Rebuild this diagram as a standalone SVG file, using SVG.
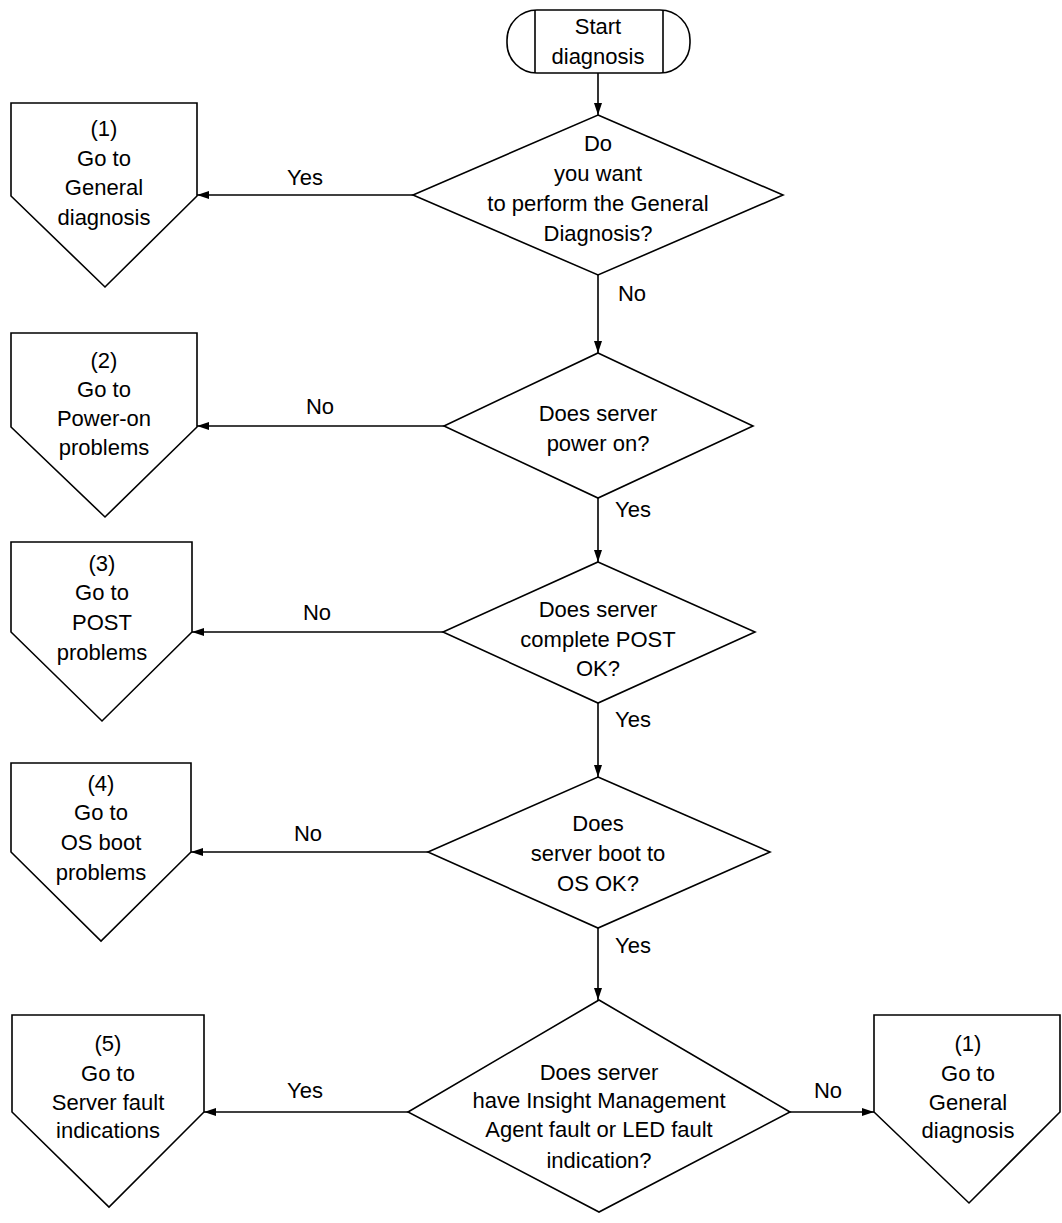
<svg xmlns="http://www.w3.org/2000/svg" width="1062" height="1223" viewBox="0 0 1062 1223">
<style>
.s{fill:#fff;stroke:#000;stroke-width:1.6}
.t{font-family:"Liberation Sans",Arial,sans-serif;font-size:22px;text-anchor:middle;dominant-baseline:central;fill:#000}
.c{stroke:#000;stroke-width:1.6;fill:none;marker-end:url(#a)}
</style>
<defs><marker id="a" markerWidth="12" markerHeight="8" refX="12" refY="4" orient="auto" markerUnits="userSpaceOnUse"><path d="M0,0 L12,4 L0,8 Z" fill="#000"/></marker></defs>
<rect width="1062" height="1223" fill="#fff"/>
<g id="start"><rect class="s" x="507" y="10" width="183" height="63" rx="30"/><line class="s" x1="535" y1="10" x2="535" y2="73"/><line class="s" x1="663" y1="10" x2="663" y2="73"/><text class="t" x="598" y="26">Start</text><text class="t" x="598" y="56">diagnosis</text></g>
<g id="d1"><polygon class="s" points="598,115 783,195 598,275 413,195"/><text class="t" x="598" y="143">Do</text><text class="t" x="598" y="173">you want</text><text class="t" x="598" y="203">to perform the General</text><text class="t" x="598" y="233">Diagnosis?</text></g>
<g id="c1"><polygon class="s" points="11,103 197,103 197,196 105,287 11,196"/><text class="t" x="104" y="128">(1)</text><text class="t" x="104" y="158">Go to</text><text class="t" x="104" y="187">General</text><text class="t" x="104" y="217">diagnosis</text></g>
<g id="d2"><polygon class="s" points="598,353 753,426 598,498 444,426"/><text class="t" x="598" y="413">Does server</text><text class="t" x="598" y="443">power on?</text></g>
<g id="c2"><polygon class="s" points="11,333 197,333 197,427 105,517 11,427"/><text class="t" x="104" y="360">(2)</text><text class="t" x="104" y="389">Go to</text><text class="t" x="104" y="418">Power-on</text><text class="t" x="104" y="447">problems</text></g>
<g id="d3"><polygon class="s" points="598,562 755,632 598,703 443,632"/><text class="t" x="598" y="609">Does server</text><text class="t" x="598" y="639">complete POST</text><text class="t" x="598" y="668">OK?</text></g>
<g id="c3"><polygon class="s" points="11,542 192,542 192,632 102,721 11,632"/><text class="t" x="102" y="563">(3)</text><text class="t" x="102" y="592">Go to</text><text class="t" x="102" y="622">POST</text><text class="t" x="102" y="652">problems</text></g>
<g id="d4"><polygon class="s" points="598,777 770,852 598,928 428,852"/><text class="t" x="598" y="823">Does</text><text class="t" x="598" y="853">server boot to</text><text class="t" x="598" y="883">OS OK?</text></g>
<g id="c4"><polygon class="s" points="11,763 191,763 191,852 101,941 11,852"/><text class="t" x="101" y="783">(4)</text><text class="t" x="101" y="812">Go to</text><text class="t" x="101" y="842">OS boot</text><text class="t" x="101" y="872">problems</text></g>
<g id="d5"><polygon class="s" points="599,1000 790,1112 599,1212 408,1112"/><text class="t" x="599" y="1072">Does server</text><text class="t" x="599" y="1100">have Insight Management</text><text class="t" x="599" y="1129">Agent fault or LED fault</text><text class="t" x="599" y="1160">indication?</text></g>
<g id="c5"><polygon class="s" points="12,1015 204,1015 204,1112 109,1207 12,1112"/><text class="t" x="108" y="1043">(5)</text><text class="t" x="108" y="1073">Go to</text><text class="t" x="108" y="1102">Server fault</text><text class="t" x="108" y="1130">indications</text></g>
<g id="c6"><polygon class="s" points="874,1015 1060,1015 1060,1112 969,1203 874,1112"/><text class="t" x="968" y="1043">(1)</text><text class="t" x="968" y="1073">Go to</text><text class="t" x="968" y="1102">General</text><text class="t" x="968" y="1130">diagnosis</text></g>
<g id="connectors">
<line class="c" x1="598" y1="73" x2="598" y2="115"/>
<line class="c" x1="413" y1="195" x2="197" y2="195"/>
<line class="c" x1="598" y1="275" x2="598" y2="353"/>
<line class="c" x1="444" y1="426" x2="197" y2="426"/>
<line class="c" x1="598" y1="498" x2="598" y2="562"/>
<line class="c" x1="443" y1="632" x2="192" y2="632"/>
<line class="c" x1="598" y1="703" x2="598" y2="777"/>
<line class="c" x1="428" y1="852" x2="191" y2="852"/>
<line class="c" x1="598" y1="928" x2="598" y2="1000"/>
<line class="c" x1="408" y1="1112" x2="204" y2="1112"/>
<line class="c" x1="790" y1="1112" x2="874" y2="1112"/>
<text class="t" x="305" y="177">Yes</text>
<text class="t" x="632" y="293">No</text>
<text class="t" x="320" y="406">No</text>
<text class="t" x="633" y="509">Yes</text>
<text class="t" x="317" y="612">No</text>
<text class="t" x="633" y="719">Yes</text>
<text class="t" x="308" y="833">No</text>
<text class="t" x="633" y="945">Yes</text>
<text class="t" x="305" y="1090">Yes</text>
<text class="t" x="828" y="1090">No</text>
</g>
</svg>
